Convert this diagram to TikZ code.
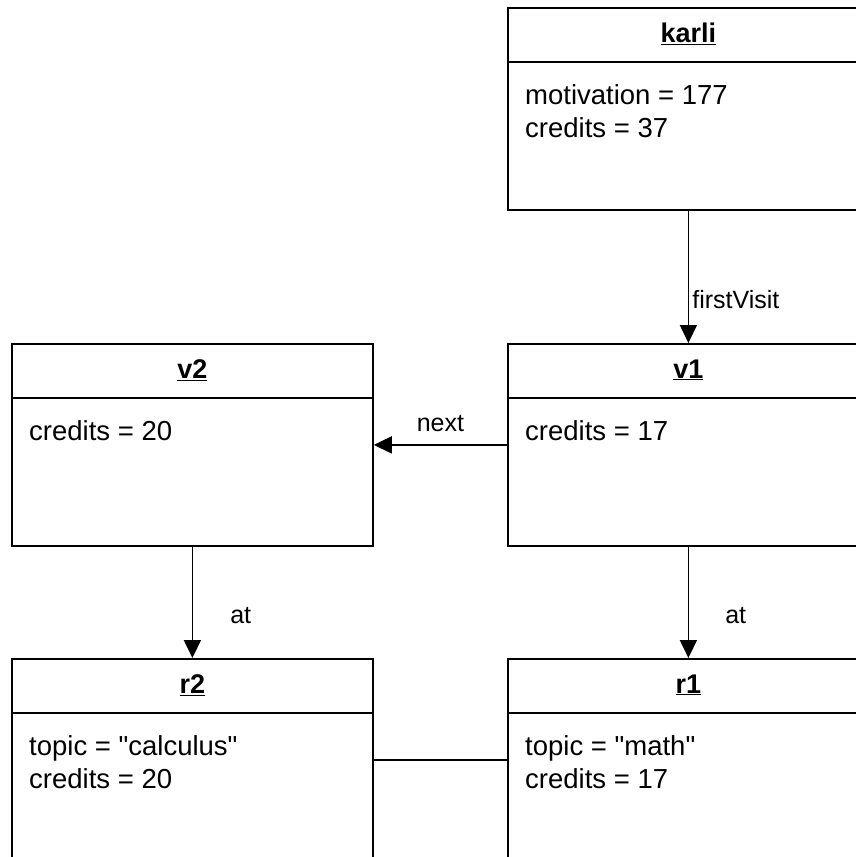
\documentclass[tikz,border=0pt]{standalone}
\usepackage{fontspec}
\setmainfont{Liberation Sans}[Ligatures=TeXOff]
\usetikzlibrary{arrows.meta}
\begin{document}
\begin{tikzpicture}[x=1pt,y=-1pt,
  obj/.style={draw, line width=1.8pt, minimum width=361pt, minimum height=202pt,
    anchor=north west, inner sep=0pt},
  objtitle/.style={font=\fontsize{27}{32}\selectfont\bfseries, inner sep=0pt},
  attr/.style={font=\fontsize{27.5}{33}\selectfont, anchor=base west, align=left, inner sep=0pt},
  lbl/.style={font=\fontsize{25}{30}\selectfont, inner sep=0pt},
  link/.style={line width=1.8pt, -{Triangle[length=18pt,width=17pt]}},
  assoc/.style={line width=1.8pt}]
\useasboundingbox (0,0) rectangle (856,857);
\clip (0,0) rectangle (856,857);

% object boxes
\node[obj] (karli) at (507,7) {};
\node[obj] (v1) at (507,343) {};
\node[obj] (v2) at (11,343) {};
\node[obj] (r1) at (507,658) {};
\node[obj] (r2) at (11,658) {};

% header separators and titles
\foreach \o/\t in {karli/karli, v1/v1, v2/v2, r1/r1, r2/r2}{
  \draw[line width=1.8pt] ([yshift=-55pt]\o.north west) -- ([yshift=-55pt]\o.north east);
  \node[objtitle] (\o-title) at ([yshift=-27pt]\o.north) {\underline{\t}};
}

% attributes (base anchor sits on the last line of a two-line node)
\node[attr] (karli-attr) at ([xshift=18pt,yshift=-130pt]karli.north west)
  {motivation = 177\\credits = 37};
\node[attr] (v1-attr) at ([xshift=18pt,yshift=-97pt]v1.north west) {credits = 17};
\node[attr] (v2-attr) at ([xshift=18pt,yshift=-97pt]v2.north west) {credits = 20};
\node[attr] (r1-attr) at ([xshift=18pt,yshift=-130pt]r1.north west)
  {topic = "math"\\credits = 17};
\node[attr] (r2-attr) at ([xshift=18pt,yshift=-130pt]r2.north west)
  {topic = "calculus"\\credits = 20};

% links
\draw[link] (karli) -- node[lbl, anchor=west, pos=0.67, xshift=3pt] {firstVisit} (v1);
\draw[link] (v1) -- node[lbl, above=12pt, midway] {next} (v2);
\draw[link] (v2) -- node[lbl, anchor=west, pos=0.62, xshift=37pt] {at} (r2);
\draw[link] (v1) -- node[lbl, anchor=west, pos=0.62, xshift=36pt] {at} (r1);
\draw[assoc] (r2) -- (r1);
\end{tikzpicture}
\end{document}
